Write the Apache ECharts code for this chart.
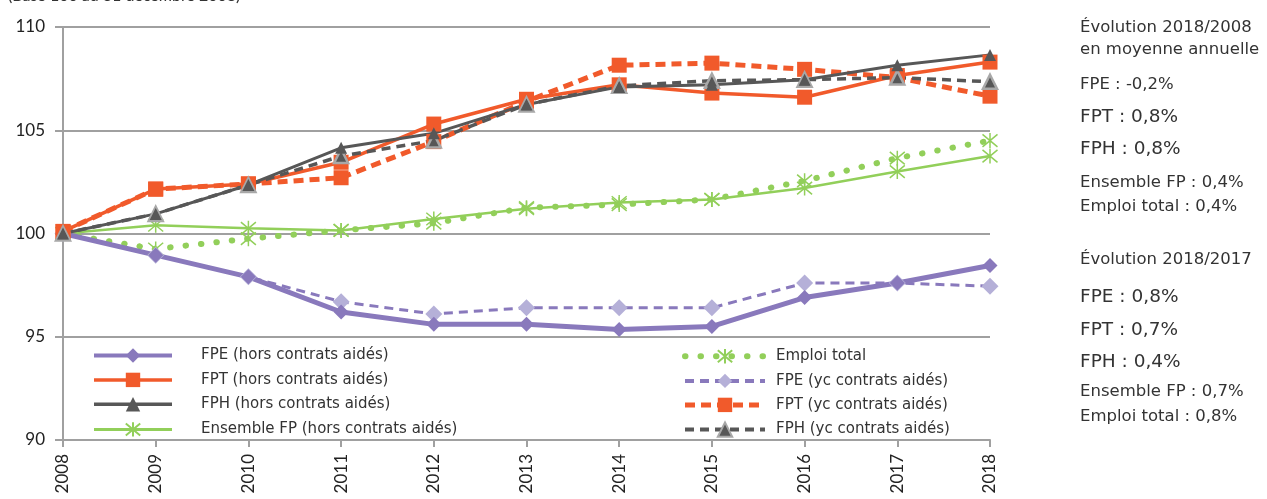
<!DOCTYPE html>
<html><head><meta charset="utf-8">
<script src="https://cdn.jsdelivr.net/npm/echarts@6/dist/echarts.min.js"></script>
<style>html,body{margin:0;padding:0;background:#fff}#c{width:1267px;height:499px}</style>
</head><body><div id="c"></div>
<script>
const years = ['2008','2009','2010','2011','2012','2013','2014','2015','2016','2017','2018'];
const yTicks = [90, 95, 100, 105, 110];
const fpeHors = [100, 98.95, 97.9, 96.2, 95.6, 95.6, 95.35, 95.5, 96.9, 97.6, 98.45];
const fptHors = [100.1, 102.15, 102.4, 103.45, 105.3, 106.5, 107.2, 106.8, 106.6, 107.65, 108.3];
const fphHors = [100, 100.95, 102.35, 104.15, 104.85, 106.25, 107.1, 107.2, 107.45, 108.15, 108.65];
const ensFP   = [100, 100.4, 100.25, 100.15, 100.7, 101.2, 101.5, 101.65, 102.2, 103.0, 103.75];
const emploi  = [100, 99.25, 99.75, 100.15, 100.5, 101.25, 101.4, 101.65, 102.55, 103.65, 104.5];
const fpeYc   = [100, 98.95, 97.9, 96.7, 96.1, 96.4, 96.4, 96.4, 97.6, 97.6, 97.45];
const fptYc   = [100.1, 102.15, 102.4, 102.7, 104.45, 106.4, 108.15, 108.25, 107.95, 107.55, 106.65];
const fphYc   = [100, 100.95, 102.35, 103.75, 104.5, 106.25, 107.15, 107.4, 107.45, 107.55, 107.35];
const title = '(Base 100 au 31 décembre 2008)';
const note1 = ['Évolution 2018/2008', 'en moyenne annuelle'];
const note1Items = ['FPE : -0,2%', 'FPT : 0,8%', 'FPH : 0,8%', 'Ensemble FP : 0,4%', 'Emploi total : 0,4%'];
const note2 = ['Évolution 2018/2017'];
const note2Items = ['FPE : 0,8%', 'FPT : 0,7%', 'FPH : 0,4%', 'Ensemble FP : 0,7%', 'Emploi total : 0,8%'];

const FONT = 'Lato';
const NFONT = '"DejaVu Sans"';
const PURPLE = '#8979BC', LAV = '#B5B0D8', ORANGE = '#F15A2B', DARK = '#575757', LGRAY = '#A8A8A8', GREEN = '#92CF5A';
const STAR = 'path://M0,0L10,10M10,0L0,10M5,-1L5,11';

const chart = echarts.init(document.getElementById('c'));
function txt(x, cy, s, size, font) {
  return {type:'text', left:x, top: Math.round(cy - size/2 - 1), style:{text:s, font: size + 'px ' + (font || NFONT), fill:'#333'}};
}
const g = [];
g.push(txt(8, -3, title, 16, FONT));
g.push(txt(1080, 28, note1[0], 16.5));
g.push(txt(1080, 50, note1[1], 16.5));
const s1 = [[85,16.5],[118,18.5],[150,18.5],[183,16.5],[207,16.5]];
note1Items.forEach((s,i)=>g.push(txt(1080, s1[i][0], s, s1[i][1])));
g.push(txt(1080, 260, note2[0], 16.5));
const s2 = [[298,18.5],[331,18.5],[363,18.5],[392,16.5],[417,16.5]];
note2Items.forEach((s,i)=>g.push(txt(1080, s2[i][0], s, s2[i][1])));

function li(name, w) { return {name: name, lineStyle: {width: w}}; }

const option = {
  animation: false,
  grid: {left: 63, right: 277, top: 27, bottom: 59},
  graphic: g,
  xAxis: {
    type: 'category', data: years, boundaryGap: false,
    axisLine: {lineStyle: {color: '#A0A0A0', width: 2}},
    axisTick: {show: true, length: 7, lineStyle: {color: '#A0A0A0', width: 2}},
    axisLabel: {rotate: 90, fontSize: 17, color: '#222', fontFamily: FONT, margin: 14}
  },
  yAxis: {
    type: 'value', min: yTicks[0], max: yTicks[yTicks.length-1], interval: 5,
    axisLine: {show: true, lineStyle: {color: '#A0A0A0', width: 2}},
    axisTick: {show: true, length: 8, lineStyle: {color: '#A0A0A0', width: 2}},
    axisLabel: {fontSize: 17, color: '#222', fontFamily: FONT, margin: 18},
    splitLine: {lineStyle: {color: '#A0A0A0', width: 2}}
  },
  legend: [
    {left: 87, top: 343, orient: 'vertical', itemWidth: 78, itemHeight: 18, itemGap: 9.4,
     textStyle: {fontSize: 15, color: '#333', fontFamily: NFONT, padding: [0,0,0,24]},
     data: [li('FPE (hors contrats aidés)', 4), li('FPT (hors contrats aidés)', 3.5), li('FPH (hors contrats aidés)', 3.5), li('Ensemble FP (hors contrats aidés)', 3)]},
    {left: 677, top: 343, orient: 'vertical', itemWidth: 80, itemHeight: 18, itemGap: 9,
     textStyle: {fontSize: 15, color: '#333', fontFamily: NFONT, padding: [0,0,0,6]},
     data: [li('Emploi total', 6), li('FPE (yc contrats aidés)', 4), li('FPT (yc contrats aidés)', 5), li('FPH (yc contrats aidés)', 4)]}
  ],
  series: [
    {name: 'Emploi total', type: 'line', data: emploi, symbol: STAR, symbolSize: 15,
     itemStyle: {color: 'rgba(0,0,0,0)', borderColor: GREEN, borderWidth: 1.5},
     lineStyle: {color: GREEN, width: 6, type: [0.5, 15], cap: 'round'}},
    {name: 'Ensemble FP (hors contrats aidés)', type: 'line', data: ensFP, symbol: STAR, symbolSize: 15,
     itemStyle: {color: 'rgba(0,0,0,0)', borderColor: GREEN, borderWidth: 1.5},
     lineStyle: {color: GREEN, width: 2.5}},
    {name: 'FPE (yc contrats aidés)', type: 'line', data: fpeYc, symbol: 'diamond', symbolSize: 17,
     itemStyle: {color: LAV}, lineStyle: {color: PURPLE, width: 3, type: [9, 6]}},
    {name: 'FPE (hors contrats aidés)', type: 'line', data: fpeHors, symbol: 'diamond', symbolSize: 15,
     itemStyle: {color: PURPLE}, lineStyle: {color: PURPLE, width: 5}},
    {name: 'FPT (yc contrats aidés)', type: 'line', data: fptYc, symbol: 'rect', symbolSize: 15,
     itemStyle: {color: ORANGE}, lineStyle: {color: ORANGE, width: 5, type: [10, 6]}},
    {name: 'FPT (hors contrats aidés)', type: 'line', data: fptHors, symbol: 'rect', symbolSize: 15,
     itemStyle: {color: ORANGE}, lineStyle: {color: ORANGE, width: 3.5}},
    {name: 'FPH (yc contrats aidés)', type: 'line', data: fphYc, symbol: 'triangle', symbolSize: 14,
     itemStyle: {color: DARK, borderColor: LGRAY, borderWidth: 2.5}, lineStyle: {color: DARK, width: 3.5, type: [9, 6]}},
    {name: 'FPH (hors contrats aidés)', type: 'line', data: fphHors, symbol: 'triangle', symbolSize: 12,
     itemStyle: {color: DARK}, lineStyle: {color: DARK, width: 3}}
  ]
};
chart.setOption(option);
</script></body></html>
